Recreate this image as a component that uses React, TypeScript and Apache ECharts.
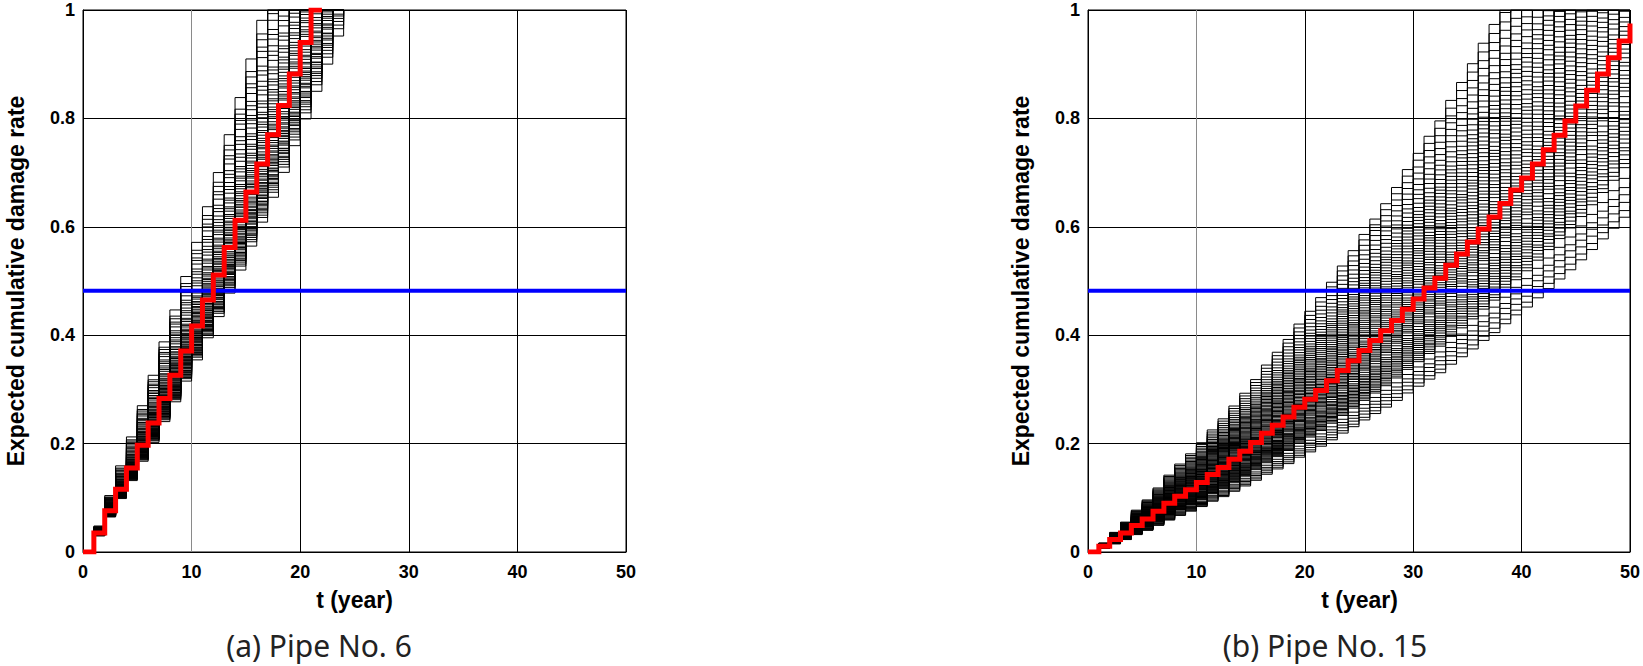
import React, { useEffect, useRef } from "react";
import * as echarts from "echarts";

// Expected (mean) cumulative damage rate per year
// (panel a is continued past 1 so that the slower sample paths can be drawn)
const meanA = [0, 0.035, 0.076, 0.116, 0.155, 0.197, 0.238, 0.283, 0.326, 0.371, 0.417, 0.465, 0.511, 0.562, 0.612, 0.664, 0.716, 0.77, 0.824, 0.882, 0.94, 1.0, 1.059, 1.12, 1.182];
const meanB = [0, 0.0105, 0.023, 0.035, 0.049, 0.061, 0.075, 0.09, 0.103, 0.115, 0.128, 0.143, 0.156, 0.171, 0.186, 0.202, 0.219, 0.234, 0.249, 0.267, 0.282, 0.298, 0.316, 0.335, 0.353, 0.372, 0.39, 0.408, 0.427, 0.448, 0.467, 0.487, 0.505, 0.529, 0.55, 0.572, 0.596, 0.618, 0.643, 0.668, 0.69, 0.716, 0.742, 0.769, 0.795, 0.823, 0.852, 0.882, 0.912, 0.943, 0.975];

// Sample path levels relative to the mean path, read from the spread of the black staircases
const factorsA = [0.85, 0.862, 0.868, 0.874, 0.879, 0.883, 0.886, 0.892, 0.895, 0.899, 0.903, 0.904, 0.911, 0.914, 0.918, 0.92, 0.926, 0.93, 0.933, 0.937, 0.941, 0.944, 0.949, 0.952, 0.958, 0.961, 0.967, 0.972, 0.975, 0.981, 0.986, 0.993, 0.997, 1.002, 1.004, 1.012, 1.016, 1.021, 1.025, 1.031, 1.039, 1.043, 1.048, 1.055, 1.06, 1.066, 1.074, 1.081, 1.086, 1.095, 1.102, 1.108, 1.119, 1.127, 1.133, 1.146, 1.155, 1.162, 1.178, 1.19, 1.2, 1.213, 1.229, 1.24, 1.252, 1.274, 1.29, 1.301, 1.32, 1.335, 1.37];
const factorsB = [0.655, 0.668, 0.684, 0.699, 0.713, 0.731, 0.752, 0.76, 0.768, 0.777, 0.785, 0.791, 0.8, 0.808, 0.816, 0.823, 0.831, 0.839, 0.846, 0.855, 0.862, 0.871, 0.879, 0.891, 0.902, 0.909, 0.917, 0.926, 0.933, 0.942, 0.951, 0.958, 0.967, 0.976, 0.984, 0.993, 1.002, 1.011, 1.019, 1.028, 1.037, 1.046, 1.058, 1.068, 1.077, 1.088, 1.097, 1.108, 1.117, 1.128, 1.139, 1.149, 1.16, 1.171, 1.181, 1.19, 1.199, 1.211, 1.224, 1.236, 1.249, 1.26, 1.272, 1.285, 1.297, 1.31, 1.322, 1.333, 1.346, 1.361, 1.378, 1.396, 1.413, 1.431, 1.452, 1.474, 1.497, 1.521, 1.548, 1.575];

const thresholdA = 0.482;
const thresholdB = 0.482;

const captions = ["(a) Pipe No. 6", "(b) Pipe No. 15"];
const yTitle = "Expected cumulative damage rate";
const xTitle = "t (year)";

const GRIDS = [
  { left: 83, top: 10, width: 543, height: 542 },
  { left: 1088, top: 10, width: 543, height: 542 },
];

const BOLD = '"Liberation Sans", Arial, Helvetica, sans-serif';

function staircase(mean: number[], s: number): number[][] {
  const pts: number[][] = [];
  for (let k = 0; k < mean.length; k++) {
    const v = Math.min(1, s * mean[k]);
    pts.push([k, v]);
    if (v >= 1) {
      if (k + 1 < mean.length) pts.push([k + 1, 1]);
      break;
    }
  }
  return pts;
}

function buildSeries(g: number, mean: number[], factors: number[], threshold: number) {
  const out: any[] = [];
  factors.forEach((s) => {
    out.push({
      type: "line",
      xAxisIndex: g,
      yAxisIndex: g,
      data: staircase(mean, s),
      step: "end",
      symbol: "none",
      showSymbol: false,
      silent: true,
      lineStyle: { color: "#000", width: 1 },
      z: 2,
    });
  });
  out.push({
    type: "line",
    xAxisIndex: g,
    yAxisIndex: g,
    data: [
      [0, threshold],
      [50, threshold],
    ],
    symbol: "none",
    silent: true,
    lineStyle: { color: "#0000ff", width: 4 },
    z: 3,
  });
  out.push({
    type: "line",
    xAxisIndex: g,
    yAxisIndex: g,
    data: staircase(mean, 1),
    step: "end",
    symbol: "none",
    silent: true,
    lineStyle: { color: "#ff0000", width: 5, join: "miter", cap: "butt" },
    z: 4,
  });
  return out;
}

function textStyle(text: string, font: string, fill: string, lineHeight: number) {
  return {
    text,
    font,
    fill,
    lineHeight,
    align: "center",
    verticalAlign: "middle",
    textAlign: "center",
    textVerticalAlign: "middle",
  };
}

export default function App() {
  const ref = useRef<HTMLDivElement>(null);
  useEffect(() => {
    if (!ref.current) return;
    const chart = echarts.init(ref.current, undefined, { renderer: "svg" });
    const option: any = {
      animation: false,
      backgroundColor: "#fff",
      grid: GRIDS.map((g) => ({ ...g, show: true, borderColor: "#000", borderWidth: 1, backgroundColor: "transparent" })),
      xAxis: GRIDS.map((_, i) => ({
        gridIndex: i,
        type: "value",
        min: 0,
        max: 50,
        interval: 10,
        axisLine: { show: true, onZero: false, lineStyle: { color: "#000", width: 1 } },
        axisTick: { show: false },
        axisLabel: { color: "#000", fontWeight: "bold", fontSize: 18, fontFamily: BOLD, margin: 11 },
        splitLine: { show: true, lineStyle: { color: ["#000", "#8a8a8a", "#000", "#000", "#000", "#000"], width: 1 } },
      })),
      yAxis: GRIDS.map((_, i) => ({
        gridIndex: i,
        type: "value",
        min: 0,
        max: 1,
        interval: 0.2,
        axisLine: { show: true, onZero: false, lineStyle: { color: "#000", width: 1 } },
        axisTick: { show: false },
        axisLabel: { color: "#000", fontWeight: "bold", fontSize: 18, fontFamily: BOLD, margin: 8 },
        splitLine: { show: true, lineStyle: { color: "#000", width: 1 } },
      })),
      series: [
        ...buildSeries(0, meanA, factorsA, thresholdA),
        ...buildSeries(1, meanB, factorsB, thresholdB),
      ],
      graphic: [
        ...GRIDS.map((g) => ({
          type: "text",
          x: g.left - 67,
          y: g.top + g.height / 2,
          rotation: Math.PI / 2,
          silent: true,
          style: textStyle(yTitle, `bold 23px ${BOLD}`, "#000", 26),
        })),
        ...GRIDS.map((g) => ({
          type: "text",
          x: g.left + g.width / 2,
          y: 600,
          silent: true,
          style: textStyle(xTitle, `bold 23px ${BOLD}`, "#000", 26),
        })),
        ...[319, 1325].map((cx, i) => ({
          type: "text",
          x: cx,
          y: 645,
          silent: true,
          style: textStyle(captions[i], `30px "Noto Sans", "Open Sans", sans-serif`, "#222", 30),
        })),
      ],
    };
    chart.setOption(option);
    return () => chart.dispose();
  }, []);
  return (
    <div
      ref={ref}
      style={{ position: "absolute", left: 0, top: 0, width: 1643, height: 666, background: "#fff" }}
    />
  );
}
